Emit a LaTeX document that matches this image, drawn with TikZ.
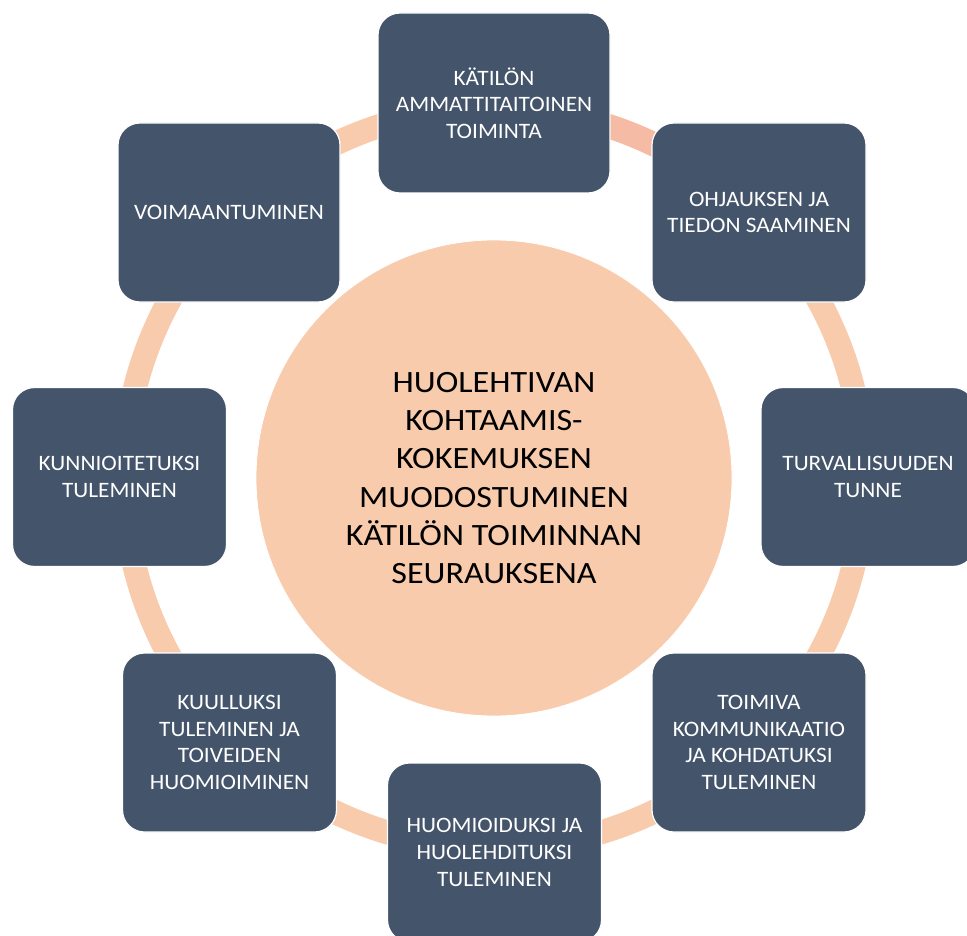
\documentclass[tikz,border=0pt]{standalone}
\usepackage{fontspec}
\setmainfont{Carlito}
\newfontfamily\boxfont[FakeStretch=1.06]{Carlito}
\newfontfamily\hubfont[FakeStretch=1.1]{Carlito}
\definecolor{slate}{HTML}{44546A}
\definecolor{peach}{HTML}{F8CBAD}
\definecolor{salmon}{HTML}{F5BBA5}
\begin{document}
\begin{tikzpicture}[x=1pt,y=-1pt,
  item/.style={fill=slate, draw=white, line width=1.2pt, rounded corners=22pt,
    minimum width=214pt, minimum height=179pt, text=white, align=center,
    font=\boxfont\fontsize{22}{26.7}\selectfont, inner sep=4pt},
  hub/.style={circle, fill=peach, draw=white, line width=0.8pt, minimum size=476pt,
    align=center, text=black, font=\hubfont\fontsize{31}{38.3}\selectfont},
  ring/.style={line width=24pt, draw=peach},
  ringhi/.style={line width=24pt, draw=salmon}]
\clip (0,0) rectangle (967,936);
\coordinate (c) at (494,478);
\draw[ring] (c) circle[radius=370pt];
\draw[ringhi] ([shift={(45:370pt)}]c) arc[start angle=45, end angle=90, radius=370pt];
\node[hub] (hub) at (c) {HUOLEHTIVAN\\KOHTAAMIS-\\KOKEMUKSEN\\MUODOSTUMINEN\\KÄTILÖN TOIMINNAN\\SEURAUKSENA};
\node[item, minimum width=232pt, minimum height=180pt] (b1) at (494,103) {KÄTILÖN\\AMMATTITAITOINEN\\TOIMINTA};
\node[item] (b2) at (759,212.5) {OHJAUKSEN JA\\TIEDON SAAMINEN};
\node[item] (b3) at (868,477) {TURVALLISUUDEN\\TUNNE};
\node[item] (b4) at (759,742.5) {TOIMIVA\\KOMMUNIKAATIO\\JA KOHDATUKSI\\TULEMINEN};
\node[item] (b5) at (494.5,852.5) {HUOMIOIDUKSI JA\\HUOLEHDITUKSI\\TULEMINEN};
\node[item] (b6) at (229.5,742.5) {KUULLUKSI\\TULEMINEN JA\\TOIVEIDEN\\HUOMIOIMINEN};
\node[item] (b7) at (119.5,477) {KUNNIOITETUKSI\\TULEMINEN};
\node[item, minimum width=222pt] (b8) at (229,212.5) {VOIMAANTUMINEN};
\end{tikzpicture}
\end{document}
